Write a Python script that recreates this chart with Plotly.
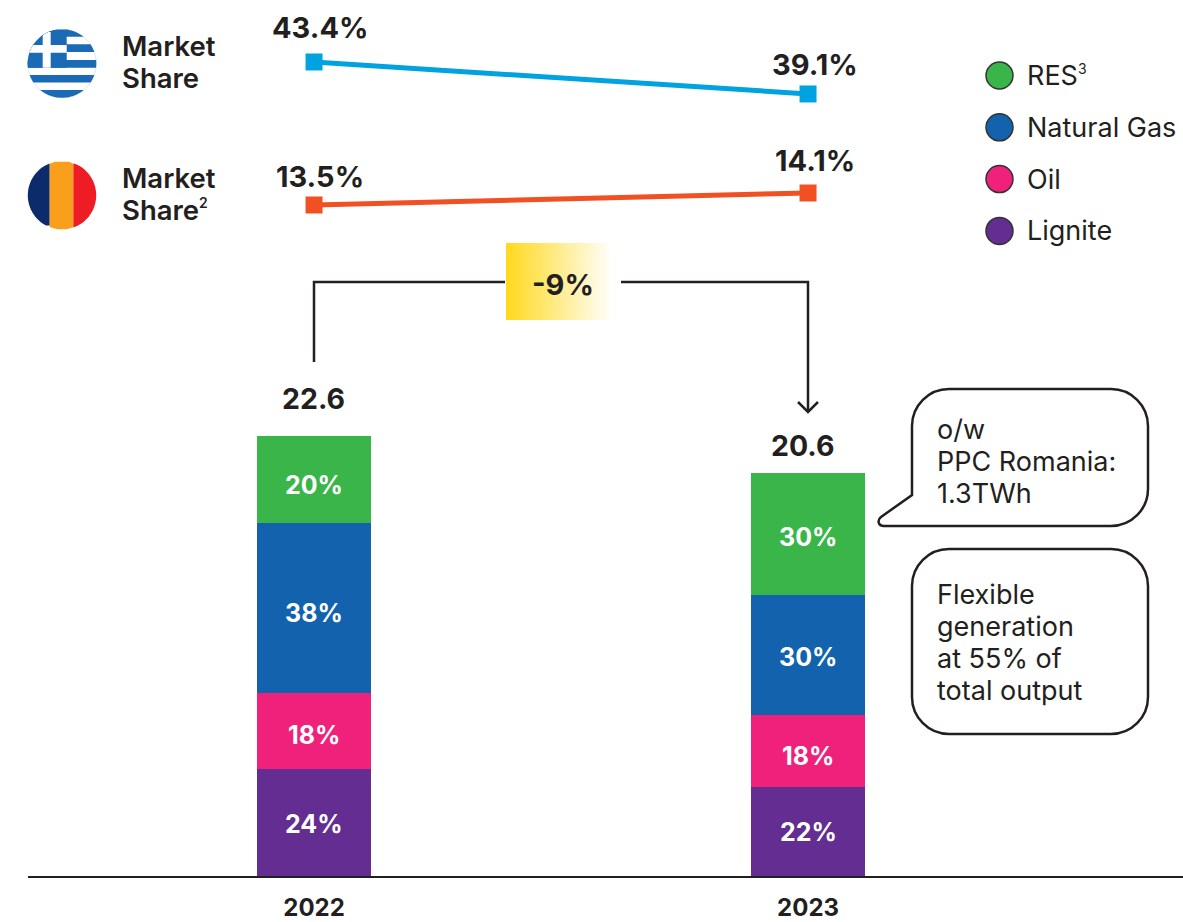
import numpy as np
import plotly.graph_objects as go

W, H = 1183, 922
BASE = 877  # pixel row of the category axis
FONT = "Inter"
INK = "#231F20"

years = ["2022", "2023"]
res_twh = [4.45, 6.25]
gas_twh = [8.7, 6.1]
oil_twh = [3.85, 3.7]
lignite_twh = [5.55, 4.6]
res_pct = ["20%", "30%"]
gas_pct = ["38%", "30%"]
oil_pct = ["18%", "18%"]
lignite_pct = ["24%", "22%"]
totals = ["22.6", "20.6"]
greece_share = [43.4, 39.1]
romania_share = [13.5, 14.1]
legend_names = ['RES<sup><span style="font-size:14px">3</span></sup>', "Natural Gas", "Oil", "Lignite"]
GREEN, BLUE, PINK, PURPLE = "#3AB54A", "#1262AE", "#F0217B", "#632D91"
legend_colors = [GREEN, BLUE, PINK, PURPLE]


def px(x):
    return x / W


def py(y):
    return 1 - y / BASE


shapes, annots = [], []


def text(x, y, s, size, weight=400, anchor="left", color=INK):
    annots.append(dict(xref="paper", yref="paper", x=px(x), y=py(y), text=s, showarrow=False,
                       xanchor=anchor, yanchor="middle", align=anchor,
                       font=dict(family=FONT, size=size, weight=weight, color=color)))


def lines(x, y, strings, size, weight=400, step=32):
    for i, s in enumerate(strings):
        text(x, y + i * step, s, size, weight)


def path_shape(d, line=None, fill=None, width=2.5):
    shapes.append(dict(type="path", xref="paper", yref="paper", path=d,
                       fillcolor=fill or "rgba(0,0,0,0)",
                       line=dict(color=line or "rgba(0,0,0,0)", width=width if line else 0)))


def P(x, y):
    return f"{px(x):.5f},{py(y):.5f}"


def clipped_rect(cx, cy, r, x0, x1, y0, y1, color):
    left, right = [], []
    for y in np.linspace(y0, y1, 40):
        dy = y - cy
        if abs(dy) >= r:
            continue
        half = np.sqrt(r * r - dy * dy)
        a, b = max(x0, cx - half), min(x1, cx + half)
        if a < b:
            left.append((a, y))
            right.append((b, y))
    pts = left + right[::-1]
    path_shape("M" + " L".join(P(*p) for p in pts) + " Z", fill=color)


# Category axis line
path_shape(f"M{P(28,877)} L{P(1183,877)}", line=INK, width=2)

# Greek flag
FLAG_BLUE = "#1A6AB5"
gx, gy, gr = 62, 63.5, 34.3
shapes.append(dict(type="circle", xref="paper", yref="paper", x0=px(gx - gr), x1=px(gx + gr),
                   y0=py(gy + gr), y1=py(gy - gr), fillcolor="white",
                   line=dict(color="#DCE8F3", width=1)))
for a, b in [(29, 36.7), (44.3, 52), (60, 67.7), (75, 82.5), (90, 98)]:
    clipped_rect(gx, gy, gr, 27, 97, a, b, FLAG_BLUE)
clipped_rect(gx, gy, gr, 27, 66.7, 29, 67.7, FLAG_BLUE)
clipped_rect(gx, gy, gr, 42.7, 50.7, 29, 67.7, "white")
clipped_rect(gx, gy, gr, 27, 66.7, 45, 52.7, "white")

# Romanian flag
rx, ry, rr = 62, 195.3, 34.2
clipped_rect(rx, ry, rr, 27, 49.7, 160, 231, "#0B2B6B")
clipped_rect(rx, ry, rr, 49.7, 73.4, 160, 231, "#F99F1C")
clipped_rect(rx, ry, rr, 73.4, 97, 160, 231, "#EE1C25")

lines(120, 46, ["Market", "Share"], 27.5, 600)
lines(120, 178, ["Market", 'Share<sup><span style="font-size:14px">2</span></sup>'], 27.5, 600)

# Legend
for i, (name, col) in enumerate(zip(legend_names, legend_colors)):
    cy = 75.5 + 51.8 * i
    shapes.append(dict(type="circle", xref="paper", yref="paper", x0=px(986), x1=px(1013),
                       y0=py(cy + 13.5), y1=py(cy - 13.5), fillcolor=col,
                       line=dict(color="#333333", width=1.5)))
    text(1025, cy, name, 27)

# Bracket with arrow
path_shape(f"M{P(314,362)} L{P(314,282)} L{P(505,282)}", line=INK)
path_shape(f"M{P(621,282)} L{P(808,282)} L{P(808,412)}", line=INK)
path_shape(f"M{P(798,402)} L{P(808,412)} L{P(818,402)}", line=INK)

# Gradient box
for i in range(107):
    t = i / 106
    c = [255, round(217 + 38 * t), round(30 + 225 * t)]
    shapes.append(dict(type="rect", xref="paper", yref="paper", x0=px(506 + i), x1=px(507 + i),
                       y0=py(320), y1=py(243), fillcolor=f"rgb({c[0]},{c[1]},{c[2]})",
                       line=dict(width=0)))
text(563, 284, "-9%", 29, 700, "center")

# Callouts
k = 20.4  # bezier handle length


def rounded(x0, y0, x1, y1, r=37, tail=False):
    h = r - k
    d = f"M{P(x0 + r, y0)} L{P(x1 - r, y0)} "
    d += f"C{P(x1 - h, y0)} {P(x1, y0 + h)} {P(x1, y0 + r)} L{P(x1, y1 - r)} "
    d += f"C{P(x1, y1 - h)} {P(x1 - h, y1)} {P(x1 - r, y1)} "
    if tail:
        d += f"L{P(884, y1)} C{P(878, y1)} {P(877, 520)} {P(881, 517)} L{P(x0, 495)} "
    else:
        d += f"L{P(x0 + r, y1)} C{P(x0 + h, y1)} {P(x0, y1 - h)} {P(x0, y1 - r)} "
    d += f"L{P(x0, y0 + r)} C{P(x0, y0 + h)} {P(x0 + h, y0)} {P(x0 + r, y0)} Z"
    path_shape(d, line=INK, fill="white")


rounded(912, 389, 1148, 526, tail=True)
rounded(912, 549, 1148, 734)
lines(935, 429, ["o/w", "PPC Romania:", "1.3TWh"], 27)
lines(935, 594, ["Flexible", "generation", "at 55% of", "total output"], 27)

# Totals and share labels
text(313, 398, totals[0], 28.5, 700, "center")
text(803, 445, totals[1], 28.5, 700, "center")
text(320, 28, f"{greece_share[0]}%", 29, 700, "center")
text(815, 65, f"{greece_share[1]}%", 29, 700, "center")
text(320, 176, f"{romania_share[0]}%", 29, 700, "center")
text(815, 161, f"{romania_share[1]}%", 29, 700, "center")

fig = go.Figure()
bar_w = 114 / 494
stack = [("Lignite", lignite_twh, lignite_pct, PURPLE, (1, 0)),
         ("Oil", oil_twh, oil_pct, PINK, (4, 5)),
         ("Natural Gas", gas_twh, gas_pct, BLUE, (5, 2)),
         ("RES", res_twh, res_pct, GREEN, (5, 3))]
bottom = [0.0, 0.0]
for name, vals, labels, col, nudge in stack:
    fig.add_trace(go.Bar(x=years, y=vals, name=name, width=bar_w, marker_color=col,
                         marker_line_width=0))
    for j in range(2):
        # category axes place annotations by category index
        annots.append(dict(xref="x", yref="y", x=j, y=bottom[j] + vals[j] / 2, text=labels[j],
                           showarrow=False, yanchor="middle", yshift=-nudge[j],
                           font=dict(family=FONT, size=25, weight=700, color="white")))
        bottom[j] += vals[j]

fig.add_trace(go.Scatter(x=years, y=greece_share, yaxis="y2", mode="lines+markers", name="Greece",
                         line=dict(color="#00A3E0", width=5),
                         marker=dict(symbol="square", size=17, color="#00A3E0")))
fig.add_trace(go.Scatter(x=years, y=romania_share, yaxis="y3", mode="lines+markers", name="Romania",
                         line=dict(color="#F15023", width=5),
                         marker=dict(symbol="square", size=17, color="#F15023")))

fig.update_layout(
    width=W, height=H, margin=dict(l=0, r=0, t=0, b=H - BASE, pad=0, autoexpand=False),
    paper_bgcolor="white", plot_bgcolor="white", barmode="stack", showlegend=False,
    hovermode=False, shapes=shapes, annotations=annots,
    xaxis=dict(domain=[28 / W, 1], type="category", range=[-0.579, 1.759], showline=False,
               showgrid=False, zeroline=False, ticks="", ticklabelstandoff=14,
               tickfont=dict(family=FONT, size=24, weight=700, color=INK), fixedrange=True),
    yaxis=dict(visible=False, range=[0, BASE / 19.55], fixedrange=True),
    yaxis2=dict(visible=False, overlaying="y", range=[-66.14, 51.73], fixedrange=True),
    yaxis3=dict(visible=False, overlaying="y", range=[-20.1, 23.75], fixedrange=True),
)
fig.write_html("out.html", config=dict(displayModeBar=False),
               post_script="document.body.style.margin='0';document.body.style.overflow='hidden';")
